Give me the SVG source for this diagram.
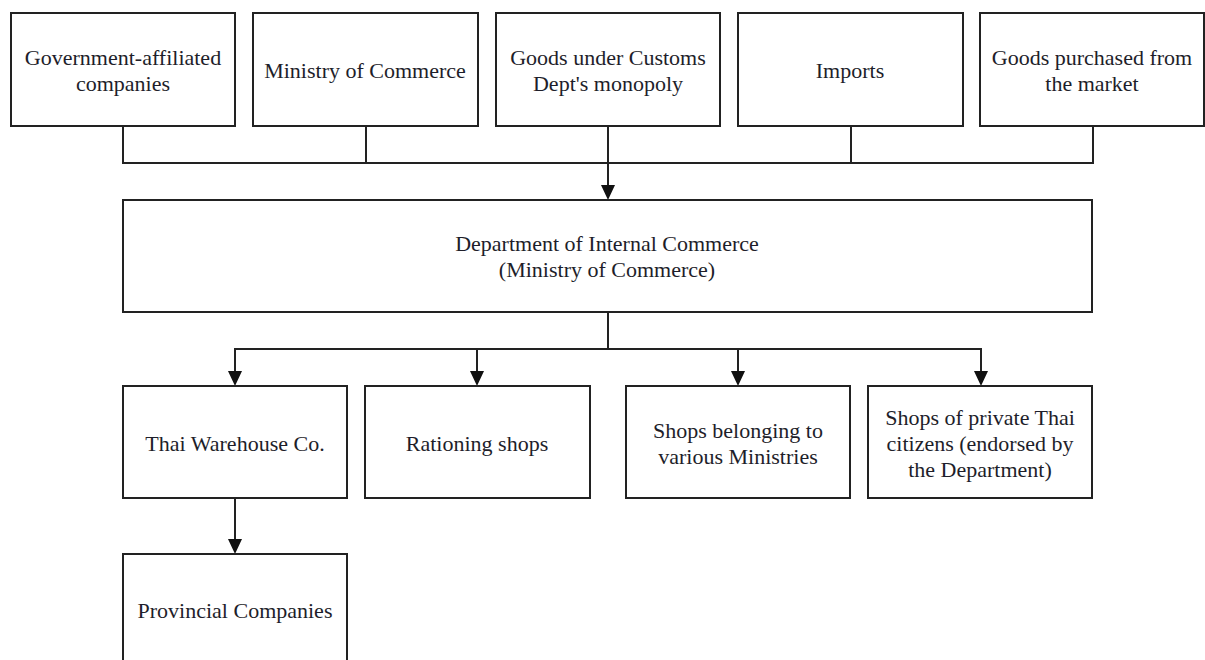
<svg xmlns="http://www.w3.org/2000/svg" width="1205" height="660" viewBox="0 0 1205 660">
<style>
.box{fill:#fff;stroke:#222;stroke-width:2}
.t{font-family:"Liberation Serif","Times New Roman",serif;font-size:22px;fill:#1e1e2a;text-anchor:middle}
.c{fill:none;stroke:#222;stroke-width:2}
.ah{fill:#111}
</style>
<rect width="1205" height="660" fill="#fff"/>
<g id="connectors">
<path class="c" d="M123,126 V163 H1093 V126 M366,126 V163 M851,126 V163"/>
<line class="c" x1="608" y1="126" x2="608" y2="186"/>
<path class="ah" d="M601,185 L615,185 L608,200 Z"/>
<path class="c" d="M608,312 V349 M235,372 V349 H981 V372 M477,349 V372 M738,349 V372"/>
<path class="ah" d="M228,371 L242,371 L235,386 Z"/>
<path class="ah" d="M470,371 L484,371 L477,386 Z"/>
<path class="ah" d="M731,371 L745,371 L738,386 Z"/>
<path class="ah" d="M974,371 L988,371 L981,386 Z"/>
<line class="c" x1="235" y1="498" x2="235" y2="540"/>
<path class="ah" d="M228,539 L242,539 L235,554 Z"/>
</g>
<g id="n1"><rect class="box" x="11" y="13" width="224" height="113"/><text class="t" x="123" y="65">Government-affiliated</text><text class="t" x="123" y="91">companies</text></g>
<g id="n2"><rect class="box" x="253" y="13" width="225" height="113"/><text class="t" x="365" y="78">Ministry of Commerce</text></g>
<g id="n3"><rect class="box" x="496" y="13" width="224" height="113"/><text class="t" x="608" y="65">Goods under Customs</text><text class="t" x="608" y="91">Dept's monopoly</text></g>
<g id="n4"><rect class="box" x="738" y="13" width="225" height="113"/><text class="t" x="850" y="78">Imports</text></g>
<g id="n5"><rect class="box" x="980" y="13" width="224" height="113"/><text class="t" x="1092" y="65">Goods purchased from</text><text class="t" x="1092" y="91">the market</text></g>
<g id="dept"><rect class="box" x="123" y="200" width="969" height="112"/><text class="t" x="607" y="251">Department of Internal Commerce</text><text class="t" x="607" y="277">(Ministry of Commerce)</text></g>
<g id="thai"><rect class="box" x="123" y="386" width="224" height="112"/><text class="t" x="235" y="451">Thai Warehouse Co.</text></g>
<g id="ration"><rect class="box" x="365" y="386" width="225" height="112"/><text class="t" x="477" y="451">Rationing shops</text></g>
<g id="ministries"><rect class="box" x="626" y="386" width="224" height="112"/><text class="t" x="738" y="438">Shops belonging to</text><text class="t" x="738" y="464">various Ministries</text></g>
<g id="private"><rect class="box" x="868" y="386" width="224" height="112"/><text class="t" x="980" y="425">Shops of private Thai</text><text class="t" x="980" y="451">citizens (endorsed by</text><text class="t" x="980" y="477">the Department)</text></g>
<g id="provincial"><rect class="box" x="123" y="554" width="224" height="120"/><text class="t" x="235" y="618">Provincial Companies</text></g>
</svg>
